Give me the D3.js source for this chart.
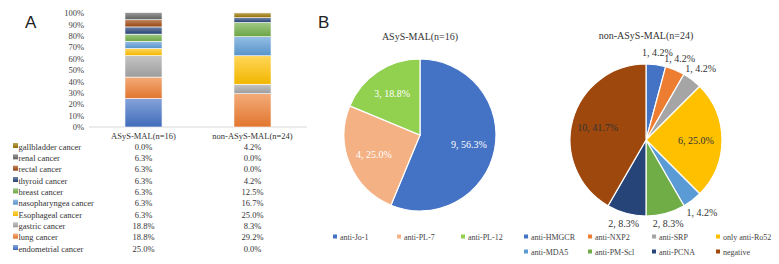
<!DOCTYPE html>
<html>
<head>
<meta charset="utf-8">
<script src="https://cdnjs.cloudflare.com/ajax/libs/d3/7.8.5/d3.min.js"></script>
<style>
  body { margin: 0; background: #fff; }
  svg { display: block; font-family: "Liberation Serif", "Times New Roman", serif; }
</style>
</head>
<body>
<script>
// ---- data: panel A ----
const groups = ["ASyS-MAL(n=16)", "non-ASyS-MAL(n=24)"];
const cancers = ["endometrial cancer", "lung cancer", "gastric cancer", "Esophageal cancer",
  "nasopharyngea cancer", "breast cancer", "thyroid cancer", "rectal cancer", "renal cancer", "gallbladder cancer"];
const asysPct = [25.0, 18.8, 18.8, 6.3, 6.3, 6.3, 6.3, 6.3, 6.3, 0.0];
const nonAsysPct = [0.0, 29.2, 8.3, 25.0, 16.7, 12.5, 4.2, 0.0, 0.0, 4.2];
const cancerColors = ["#4472C4", "#ED7D31", "#A5A5A5", "#FFC000", "#5B9BD5", "#70AD47", "#264478", "#9E480E", "#636363", "#997300"];
const yTicks = [0, 10, 20, 30, 40, 50, 60, 70, 80, 90, 100];

// ---- data: panel B ----
const asysAb = ["anti-Jo-1", "anti-PL-7", "anti-PL-12"];
const asysN = [9, 4, 3];
const asysColors = ["#4472C4", "#F4B183", "#92D050"];
const nonAb = ["anti-HMGCR", "anti-NXP2", "anti-SRP", "only anti-Ro52", "anti-MDA5", "anti-PM-Scl", "anti-PCNA", "negative"];
const nonN = [1, 1, 1, 6, 1, 2, 2, 10];
const nonColors = ["#4472C4", "#ED7D31", "#A5A5A5", "#FFC000", "#5B9BD5", "#70AD47", "#264478", "#9E480E"];

const W = 779, H = 264;
const svg = d3.select("body").append("svg").attr("width", W).attr("height", H);
const defs = svg.append("defs");

// gradients, lighter at top like the office style
cancerColors.forEach((c, i) => {
  const g = defs.append("linearGradient").attr("id", "g" + i)
    .attr("x1", 0).attr("y1", 0).attr("x2", 0).attr("y2", 1);
  g.append("stop").attr("offset", "0%").attr("stop-color", d3.interpolateRgb(c, "#fff")(0.35));
  g.append("stop").attr("offset", "100%").attr("stop-color", d3.color(c).darker(0.15));
});

// ===== Panel A =====
svg.append("text").attr("x", 25).attr("y", 28).attr("font-family", "Liberation Sans, Arial, sans-serif")
  .attr("font-size", 17).attr("fill", "#222").text("A");

const x = d3.scaleBand().domain(groups).range([89, 307]).paddingInner(0.66).paddingOuter(0.33);
const y = d3.scaleLinear().domain([0, 100]).range([127, 13]);

const yAxis = svg.append("g").attr("transform", "translate(89,0)")
  .call(d3.axisLeft(y).tickValues(yTicks).tickFormat(d => d + "%").tickSize(0).tickPadding(5));
yAxis.select(".domain").remove();
yAxis.selectAll("text").attr("font-family", "Liberation Serif, serif").attr("font-size", 8.5).attr("fill", "#444");

svg.append("line").attr("x1", 89).attr("x2", 307).attr("y1", y(0)).attr("y2", y(0))
  .attr("stroke", "#d9d9d9").attr("stroke-width", 1);

const series = [asysPct, nonAsysPct];
series.forEach((vals, gi) => {
  let acc = 0;
  const segs = vals.map((v, i) => { const s = { i, y0: acc, y1: acc + v }; acc += v; return s; });
  svg.append("g").selectAll("rect").data(segs.filter(s => s.y1 > s.y0)).join("rect")
    .attr("x", x(groups[gi]))
    .attr("width", x.bandwidth())
    .attr("y", d => y(d.y1))
    .attr("height", d => y(d.y0) - y(d.y1))
    .attr("fill", d => "url(#g" + d.i + ")")
    .attr("stroke", "#fff").attr("stroke-width", 0.6);
});

// category labels
svg.append("g").selectAll("text").data(groups).join("text")
  .attr("x", d => x(d) + x.bandwidth() / 2).attr("y", 139)
  .attr("text-anchor", "middle").attr("font-size", 8.5).attr("fill", "#333").text(d => d);

// data table (top row = last series)
const rowY = d3.scaleLinear().domain([0, 9]).range([147, 249]);
const order = d3.range(cancers.length).reverse();
const rows = svg.append("g").selectAll("g").data(order).join("g")
  .attr("transform", (d, r) => `translate(0,${rowY(r)})`);
rows.append("rect").attr("x", 13).attr("y", -4).attr("width", 5).attr("height", 5)
  .attr("fill", d => "url(#g" + d + ")");
rows.append("text").attr("x", 18.5).attr("y", 0).attr("dy", "0.32em").attr("font-size", 8.5)
  .attr("fill", "#333").text(d => cancers[d]);
rows.append("text").attr("x", x(groups[0]) + x.bandwidth() / 2).attr("y", 0).attr("dy", "0.32em")
  .attr("text-anchor", "middle").attr("font-size", 8.5).attr("fill", "#333").text(d => asysPct[d].toFixed(1) + "%");
rows.append("text").attr("x", x(groups[1]) + x.bandwidth() / 2).attr("y", 0).attr("dy", "0.32em")
  .attr("text-anchor", "middle").attr("font-size", 8.5).attr("fill", "#333").text(d => nonAsysPct[d].toFixed(1) + "%");

// ===== Panel B =====
svg.append("text").attr("x", 318).attr("y", 28).attr("font-family", "Liberation Sans, Arial, sans-serif")
  .attr("font-size", 17).attr("fill", "#222").text("B");

const pie = d3.pie().sort(null).value(d => d.n);
const arc = d3.arc().innerRadius(0).outerRadius(76);

function fmt(n, total) { return n + ", " + (n / total * 100).toFixed(1) + "%"; }

// pie 1
const p1 = svg.append("g").attr("transform", "translate(420,135)");
svg.append("text").attr("x", 420).attr("y", 40).attr("text-anchor", "middle")
  .attr("font-size", 10).attr("fill", "#333").text(groups[0]);
const d1 = asysAb.map((a, i) => ({ a, n: asysN[i], c: asysColors[i] }));
const tot1 = d3.sum(asysN);
const arcs1 = pie(d1);
p1.selectAll("path").data(arcs1).join("path").attr("d", arc)
  .attr("fill", d => d.data.c).attr("stroke", "#fff").attr("stroke-width", 1.2);
const lab1 = d3.arc().innerRadius(50).outerRadius(50);
p1.selectAll("text").data(arcs1).join("text")
  .attr("transform", d => `translate(${lab1.centroid(d)})`)
  .attr("text-anchor", "middle").attr("dy", "0.35em").attr("font-size", 10).attr("fill", "#fff")
  .text(d => fmt(d.data.n, tot1));

// pie 2
const p2 = svg.append("g").attr("transform", "translate(646,140)");
svg.append("text").attr("x", 646).attr("y", 39).attr("text-anchor", "middle")
  .attr("font-size", 10).attr("fill", "#333").text(groups[1]);
const d2 = nonAb.map((a, i) => ({ a, n: nonN[i], c: nonColors[i] }));
const tot2 = d3.sum(nonN);
const arcs2 = pie(d2);
p2.selectAll("path").data(arcs2).join("path").attr("d", arc)
  .attr("fill", d => d.data.c).attr("stroke", "#fff").attr("stroke-width", 1.2);
// label radius: big slices inside, small ones just outside the rim
const labR = [88, 88, 90, 50, 92, 86, 86, 50];
p2.selectAll("text").data(arcs2).join("text")
  .attr("transform", (d, i) => {
    const r = labR[i];
    const a = (d.startAngle + d.endAngle) / 2;
    return `translate(${Math.sin(a) * r},${-Math.cos(a) * r})`;
  })
  .attr("text-anchor", "middle").attr("dy", "0.35em").attr("font-size", 10).attr("fill", "#333")
  .text(d => fmt(d.data.n, tot2));

// legends
const leg1 = svg.append("g").selectAll("g").data(d1).join("g")
  .attr("transform", (d, i) => `translate(${333 + i * 64},237)`);
leg1.append("rect").attr("x", 0).attr("y", -2.5).attr("width", 4).attr("height", 4).attr("fill", d => d.c);
leg1.append("text").attr("x", 7).attr("dy", "0.32em").attr("font-size", 8).attr("fill", "#444").text(d => d.a);

const leg2 = svg.append("g").selectAll("g").data(d2).join("g")
  .attr("transform", (d, i) => i < 4 ? `translate(${524 + i * 64},237)` : `translate(${524 + (i - 4) * 64},252)`);
leg2.append("rect").attr("x", 0).attr("y", -2.5).attr("width", 4).attr("height", 4).attr("fill", d => d.c);
leg2.append("text").attr("x", 7).attr("dy", "0.32em").attr("font-size", 8).attr("fill", "#444").text(d => d.a);
</script>
</body>
</html>
